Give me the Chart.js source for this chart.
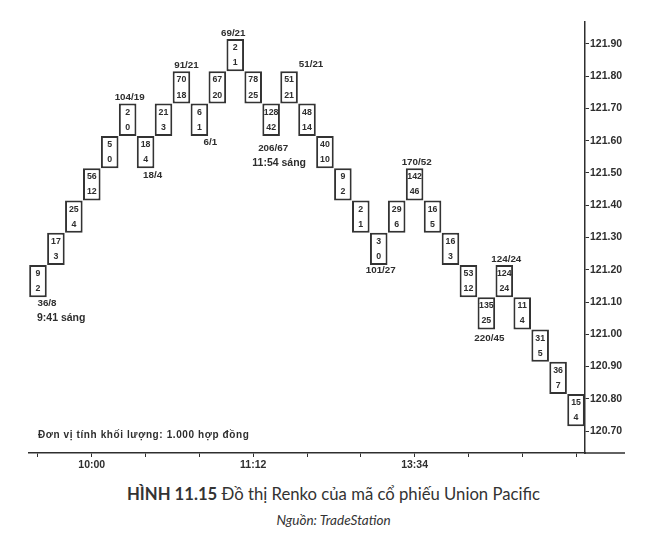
<!DOCTYPE html>
<html>
<head>
<meta charset="utf-8">
<script src="https://cdn.jsdelivr.net/npm/chart.js@4.4.0/dist/chart.umd.min.js"></script>
<style>
body{margin:0;background:#fff;width:667px;height:537px;overflow:hidden;position:relative;}
#box{position:absolute;left:0;top:0;width:667px;height:480px;}
#caption{position:absolute;top:484px;left:0;width:667px;text-align:center;font-family:Lato,"Open Sans",sans-serif;font-size:16.7px;color:#333;}
#source{position:absolute;top:512px;left:0;width:667px;text-align:center;font-family:Lato,"Open Sans",sans-serif;font-style:italic;font-size:13.5px;color:#333;}
</style>
</head>
<body>
<div id="box"><canvas id="renko" width="667" height="480"></canvas></div>
<div id="caption"><b>HÌNH 11.15</b> Đồ thị Renko của mã cổ phiếu Union Pacific</div>
<div id="source">Nguồn: TradeStation</div>
<script>
// Renko bricks (gia tri day cua moi vien gach, buoc 0.10)
const brickSize=0.1;
const brickLow=[121.115,121.215,121.315,121.415,121.515,121.615,121.515,121.615,121.715,121.615,
  121.715,121.815,121.715,121.615,121.715,121.615,121.515,121.415,121.315,121.215,
  121.315,121.415,121.315,121.215,121.115,121.015,121.115,121.015,120.915,120.815,120.715];
const upperNum=[9,17,25,56,5,2,18,21,70,6,67,2,78,128,51,48,40,9,2,3,29,142,16,16,53,135,124,11,31,36,15];
const lowerNum=[2,3,4,12,0,0,4,3,18,1,20,1,25,42,21,14,10,2,1,0,6,46,5,3,12,25,24,4,5,7,4];

// nhan tren / duoi cac dinh, day
const aboveCols=[6,9,12,15,22,27];
const aboveText=["104/19","91/21","69/21","51/21","170/52","124/24"];
const belowCols=[1,7,10,14,20,26];
const belowText=["36/8","18/4","6/1","206/67","101/27","220/45"];
const timeCols=[1,14];
const timeText=["9:41 sáng","11:54 sáng"];

// truc
const xTickCols=[4,13,22];
const xTickText=["10:00","11:12","13:34"];
const yTicks=[120.7,120.8,120.9,121.0,121.1,121.2,121.3,121.4,121.5,121.6,121.7,121.8,121.9];
const unitNote="Đơn vị tính khối lượng: 1.000 hợp đồng";

const ink="#2e2e2e";
const chartFont='"Liberation Sans", Arial, sans-serif';
const colNames=brickLow.map((v,i)=>String(i+1));

// lech vi tri cua nhan (chi la kieu dang)
const aboveShift=[[2,-6],[5,-6],[-2,-6],[22,-7],[2,-6],[2,-6]];
const belowShift=[[9,6],[7,7],[11,6],[2,12],[2,5],[3,9]];
const timeShift=[[-1,21,"left"],[8,27,"center"]];

const renkoText={
  id:"renkoText",
  afterDatasetsDraw(chart){
    const {ctx,chartArea}=chart;
    const bars=chart.getDatasetMeta(0).data;
    ctx.save();
    ctx.fillStyle=ink;
    ctx.textAlign="center";
    ctx.textBaseline="middle";
    ctx.font="bold 8.8px "+chartFont;
    bars.forEach((b,i)=>{
      const top=Math.min(b.y,b.base),h=Math.abs(b.base-b.y);
      ctx.fillText(upperNum[i],b.x,top+h*0.27);
      ctx.fillText(lowerNum[i],b.x,top+h*0.74);
    });
    ctx.font="bold 9.8px "+chartFont;
    aboveCols.forEach((c,k)=>{
      const b=bars[c-1];
      ctx.fillText(aboveText[k],b.x+aboveShift[k][0],Math.min(b.y,b.base)+aboveShift[k][1]);
    });
    belowCols.forEach((c,k)=>{
      const b=bars[c-1];
      ctx.fillText(belowText[k],b.x+belowShift[k][0],Math.max(b.y,b.base)+belowShift[k][1]);
    });
    ctx.font="bold 10.5px "+chartFont;
    timeCols.forEach((c,k)=>{
      const b=bars[c-1];
      ctx.textAlign=timeShift[k][2];
      ctx.fillText(timeText[k],b.x+timeShift[k][0],Math.max(b.y,b.base)+timeShift[k][1]);
    });
    ctx.textAlign="left";
    ctx.font="bold 10px "+chartFont;
    ctx.letterSpacing="0.6px";
    ctx.fillText(unitNote,chartArea.left+9,chartArea.bottom-18);
    ctx.letterSpacing="0px";
    // truc ngang keo dai qua truc gia
    ctx.strokeStyle=ink;
    ctx.lineWidth=1.5;
    ctx.beginPath();
    ctx.moveTo(chartArea.right,chartArea.bottom);
    ctx.lineTo(chartArea.right+40,chartArea.bottom);
    ctx.stroke();
    ctx.restore();
  }
};

new Chart(document.getElementById("renko"),{
  type:"bar",
  data:{
    labels:colNames,
    datasets:[{
      data:brickLow.map(v=>[v,v+brickSize]),
      backgroundColor:"#fff",
      borderColor:"#333",
      borderWidth:2,
      borderSkipped:false,
      barPercentage:0.98,
      categoryPercentage:1
    }]
  },
  options:{
    responsive:false,
    animation:false,
    layout:{padding:{left:29,top:22,right:0,bottom:0}},
    plugins:{legend:{display:false},tooltip:{enabled:false}},
    scales:{
      x:{
        grid:{offset:false,drawOnChartArea:false,tickLength:4,
          color:c=>(c.index%3===0?ink:"rgba(0,0,0,0)")},
        border:{color:ink,width:1.5},
        ticks:{autoSkip:false,maxRotation:0,padding:2,color:ink,
          font:{family:chartFont,size:10.5,weight:"bold"},
          callback:(v,i)=>{const k=xTickCols.indexOf(i+1);return k<0?"":xTickText[k];}},
        afterFit:s=>{s.height=27;}
      },
      y:{
        position:"right",
        min:120.632,max:121.968,
        grid:{drawOnChartArea:false,tickLength:4,color:ink},
        border:{color:ink,width:1.5},
        ticks:{padding:1,color:ink,font:{family:chartFont,size:10.5,weight:"bold"},
          callback:v=>Number(v).toFixed(2)},
        afterBuildTicks:s=>{s.ticks=yTicks.map(v=>({value:v}));},
        afterFit:s=>{s.width=82;}
      }
    }
  },
  plugins:[renkoText]
});
</script>
</body>
</html>
